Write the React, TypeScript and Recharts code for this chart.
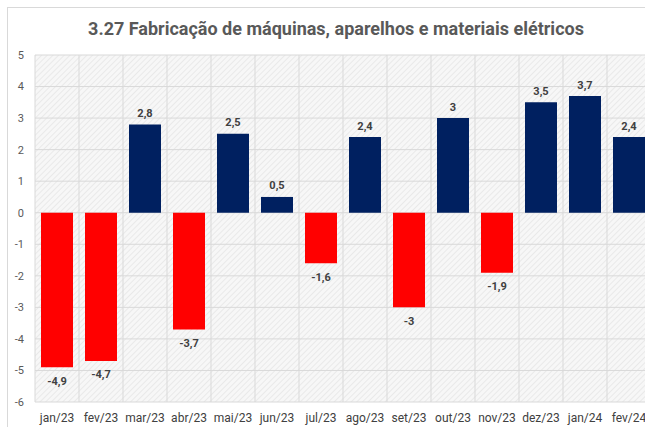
import React from "react";
import { BarChart, Bar, XAxis, YAxis, CartesianGrid, Cell, LabelList } from "recharts";

const MONTHS = [
  "jan/23", "fev/23", "mar/23", "abr/23", "mai/23", "jun/23", "jul/23",
  "ago/23", "set/23", "out/23", "nov/23", "dez/23", "jan/24", "fev/24",
];
const VALUES = [-4.9, -4.7, 2.8, -3.7, 2.5, 0.5, -1.6, 2.4, -3, 3, -1.9, 3.5, 3.7, 2.4];
const Y_TICKS = [-6, -5, -4, -3, -2, -1, 0, 1, 2, 3, 4, 5];

const TITLE = "3.27 Fabricação de máquinas, aparelhos e materiais elétricos";
const POS_COLOR = "#002060";
const NEG_COLOR = "#FF0000";
const HATCH_ID = "hatch-bg";

const data = MONTHS.map((m, i) => ({ month: m, value: VALUES[i] }));

const fmt = (v: number) => String(v).replace(".", ",");

// rótulo acima das barras positivas, abaixo das negativas
const BarLabel = (props: any) => {
  const { x, y, width, height, value } = props;
  const top = Math.min(y, y + height);
  const bottom = Math.max(y, y + height);
  const cx = x + width / 2;
  const ty = value >= 0 ? top - 11 : bottom + 14;
  return (
    <text
      x={cx}
      y={ty}
      textAnchor="middle"
      dominantBaseline="central"
      fontSize={11}
      fontWeight={700}
      fill="#404040"
    >
      {fmt(value)}
    </text>
  );
};

export default function App() {
  return (
    <div
      style={{
        position: "absolute",
        left: 0,
        top: 0,
        width: 645,
        height: 427,
        overflow: "hidden",
        background: "#fff",
        fontFamily: "Roboto, sans-serif",
      }}
    >
      <div
        style={{
          position: "absolute",
          left: 7,
          top: 7,
          width: 700,
          height: 500,
          borderLeft: "1px solid #d9d9d9",
          borderTop: "1px solid #d9d9d9",
        }}
      />
      <div
        style={{
          position: "absolute",
          left: 36,
          width: 600,
          top: 18,
          textAlign: "center",
          fontSize: 18,
          fontWeight: 700,
          color: "#595959",
        }}
      >
        {TITLE}
      </div>
      <div style={{ position: "absolute", left: 0, top: 0 }}>
        <BarChart
          width={660}
          height={427}
          data={data}
          margin={{ top: 55, right: 9, left: 0, bottom: 0 }}
          barCategoryGap={6}
        >
          <defs>
            <pattern id={HATCH_ID} width={4} height={4} patternUnits="userSpaceOnUse" patternTransform="rotate(45)">
              <rect width={4} height={4} fill="#f7f7f7" />
              <line x1={0} y1={0} x2={0} y2={4} stroke="#dcdcdc" strokeWidth={1} />
            </pattern>
          </defs>
          <CartesianGrid
            fill={`url(#${HATCH_ID})`}
            fillOpacity={1}
            stroke="#d9d9d9"
            verticalCoordinatesGenerator={({ offset }: any) =>
              MONTHS.map((_, i) => offset.left + (i * offset.width) / MONTHS.length).concat(
                offset.left + offset.width
              )
            }
          />
          <XAxis
            dataKey="month"
            height={25}
            axisLine={false}
            tickLine={false}
            tickSize={0}
            tickMargin={11}
            interval={0}
            tick={{ fontSize: 12, fill: "#404040" }}
          />
          <YAxis
            domain={[-6, 5]}
            ticks={Y_TICKS}
            width={35}
            axisLine={false}
            tickLine={false}
            tickSize={0}
            tickMargin={11}
            tick={{ fontSize: 11, fill: "#595959" }}
          />
          <Bar dataKey="value" isAnimationActive={false}>
            {data.map((d) => (
              <Cell key={d.month} fill={d.value >= 0 ? POS_COLOR : NEG_COLOR} />
            ))}
            <LabelList dataKey="value" content={BarLabel} />
          </Bar>
        </BarChart>
      </div>
    </div>
  );
}
